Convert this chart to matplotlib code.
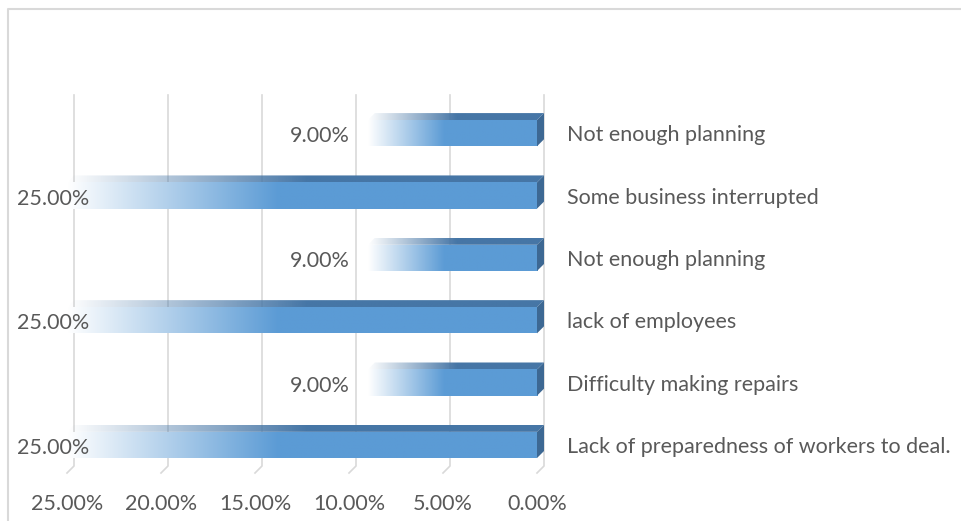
import matplotlib
matplotlib.use("Agg")
import matplotlib.pyplot as plt
import numpy as np
from matplotlib.patches import Polygon
from matplotlib.lines import Line2D
from matplotlib.ticker import PercentFormatter
from matplotlib.colors import to_rgb

# data (bottom to top)
categories = [
    "Lack of preparedness of workers to deal.",
    "Difficulty making repairs",
    "lack of employees",
    "Not enough planning",
    "Some business interrupted",
    "Not enough planning",
]
values = [25, 9, 25, 9, 25, 9]
x_ticks = [0, 5, 10, 15, 20, 25]

FRONT = to_rgb("#5B9BD5")
TOP = to_rgb("#4676A6")
SIDE = to_rgb("#3D6893")
GRID = "#D9D9D9"
TEXT = "#595959"
DEPTH = 7  # pixels of 3d depth

plt.rcParams['font.family'] = ['Lato', 'DejaVu Sans']
plt.rcParams['font.size'] = 15.5

W, H = 962, 521
PX_PER_UNIT = 470 / 25
EXTRA = 9  # room at the right for the side faces
fig = plt.figure(figsize=(W / 100, H / 100), dpi=100)
ax = fig.add_axes([67 / W, (H - 473) / H, (470 + EXTRA) / W, 371 / H])
XLIM = (25, -EXTRA / PX_PER_UNIT)
YLIM = (-0.45, 5.5)
ax.set_xlim(*XLIM)
ax.set_ylim(*YLIM)
ax.set_autoscale_on(False)
for s in ax.spines.values():
    s.set_visible(False)

y = np.arange(len(categories))
bars = ax.barh(y, values, height=0.42, color="none", edgecolor="none", zorder=3)
ax.set_xlim(*XLIM)
ax.set_ylim(*YLIM)


def shift(pt):
    # move a data point back into the 3d depth
    p = ax.transData.transform(pt) + np.array([DEPTH, DEPTH])
    return ax.transData.inverted().transform(p)


# back wall gridlines with floor edge
y_lo, y_hi = YLIM
for t in x_ticks:
    top = shift((t, y_hi))
    bot = shift((t, y_lo))
    ax.plot([top[0], bot[0], t], [top[1], bot[1], y_lo], color=GRID, lw=1.2,
            zorder=1, clip_on=False)


def gradient_image(color, n=256, frac=0.45):
    g = np.ones((1, n, 4))
    ramp = np.clip(np.linspace(0, 1, n) / frac, 0, 1)
    for k in range(3):
        g[0, :, k] = 1 - ramp * (1 - color[k])
    return g


def fade_image(color, n=256, frac=0.5):
    g = np.ones((1, n, 4))
    ramp = np.clip(np.linspace(0, 1, n) / frac, 0, 1)
    for k in range(3):
        g[0, :, k] = color[k]
    g[0, :, 3] = ramp
    return g


for b, v in zip(bars, values):
    y0 = b.get_y()
    h = b.get_height()
    # front face with gradient from tip to base
    im = ax.imshow(gradient_image(FRONT), extent=(v, 0, y0, y0 + h),
                   aspect="auto", zorder=3, interpolation="bilinear")
    im.set_clip_path(b)
    # top face
    a = (v, y0 + h)
    c = (0, y0 + h)
    sa, sc = shift(a), shift(c)
    top_poly = Polygon([a, c, sc, sa], closed=True, facecolor="none",
                       edgecolor="none")
    ax.add_patch(top_poly)
    im2 = ax.imshow(fade_image(TOP), extent=(v, sc[0], y0 + h, sa[1]),
                    aspect="auto", zorder=3, interpolation="bilinear")
    im2.set_clip_path(top_poly)
    # right side face
    side_pts = [(0, y0), (0, y0 + h), shift((0, y0 + h)), shift((0, y0))]
    ax.add_patch(Polygon(side_pts, closed=True, facecolor=SIDE,
                         edgecolor="none", zorder=3))

ax.set_xlim(*XLIM)
ax.set_ylim(*YLIM)

# value labels
vmax = max(values)
for yi, v in zip(y, values):
    if v == vmax:
        ax.annotate(f"{v:.2f}%", (v, yi), xytext=(-50, -3), textcoords="offset pixels",
                    ha="left", va="center", color=TEXT, zorder=5)
    else:
        ax.annotate(f"{v:.2f}%", (v, yi), xytext=(-18, -3), textcoords="offset pixels",
                    ha="right", va="center", color=TEXT, zorder=5)

ax.set_xticks(x_ticks)
ax.xaxis.set_major_formatter(PercentFormatter(xmax=100, decimals=2))
ax.tick_params(axis="x", length=0, pad=15, colors=TEXT)
ax.yaxis.tick_right()
ax.set_yticks(y, categories)
ax.tick_params(axis="y", length=0, pad=(30 - EXTRA) * 0.72, colors=TEXT)

# chart border
fig.add_artist(Line2D([8 / W, 8 / W, 1], [0, (H - 9) / H, (H - 9) / H],
                      transform=fig.transFigure, color=GRID, lw=1.5))

fig.savefig("out.png", dpi=100)
